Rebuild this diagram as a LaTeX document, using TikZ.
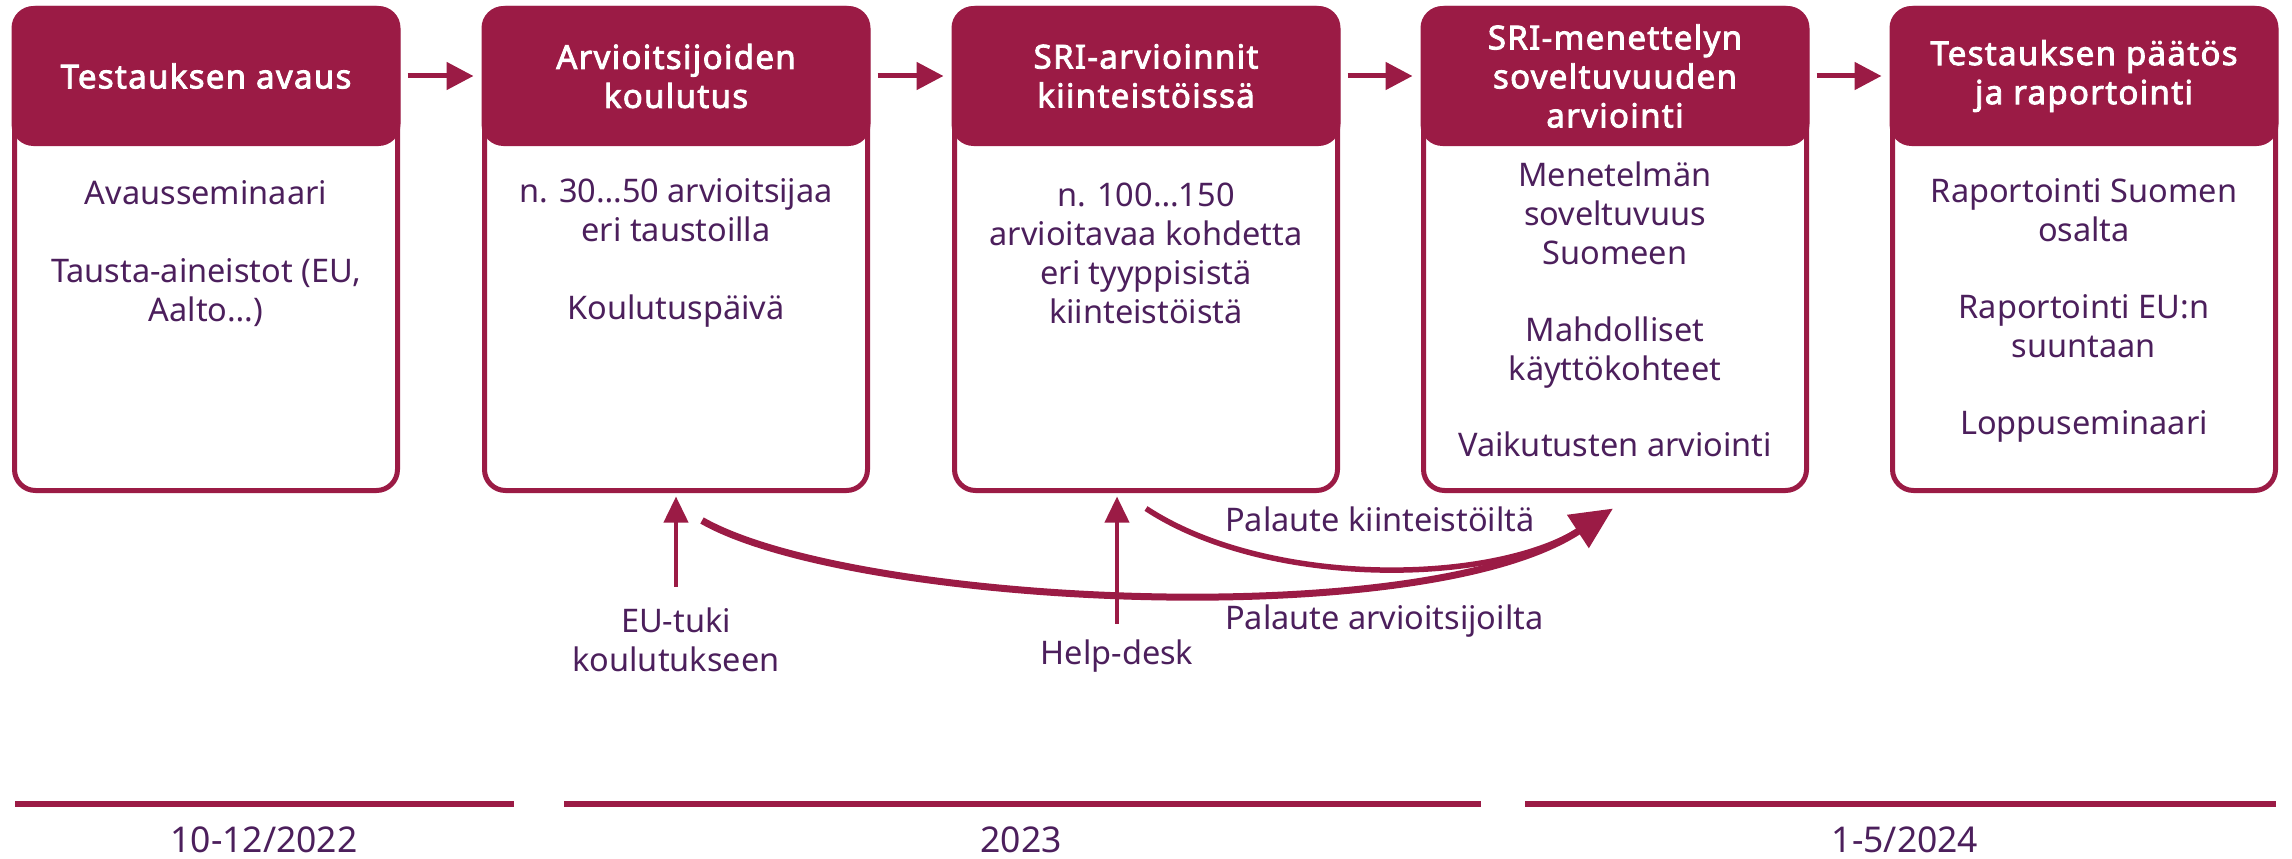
\documentclass[tikz,border=0pt]{standalone}
\usepackage{fontspec}
\setmainfont{Noto Sans}
\newfontfamily\hdfont{Noto Sans}[FakeBold=2.6, LetterSpace=4]
\usetikzlibrary{arrows.meta}
\definecolor{crim}{HTML}{9B1B45}
\definecolor{ink}{HTML}{4C1F5C}
\newcommand{\fsz}{\fontsize{32.5}{39}\selectfont}
\newcommand{\fhd}{\hdfont\fontsize{33}{39}\selectfont}
\newcommand{\fdate}{\fontsize{35.5}{40}\selectfont}
\begin{document}
\begin{tikzpicture}[x=1pt,y=-1pt,
 boxframe/.style={draw=crim, fill=white, line width=5pt, rounded corners=21pt, minimum width=383pt, minimum height=482pt, inner sep=0pt, outer sep=0pt},
 headbox/.style={fill=crim, rounded corners=22pt, minimum width=389pt, minimum height=140pt, inner sep=0pt, outer sep=0pt, text=white, font=\fhd, align=center},
 bodytext/.style={text=ink, font=\fsz, align=center, inner sep=0pt},
 labeltext/.style={text=ink, font=\fsz, align=center, inner sep=0pt},
 datetext/.style={text=ink, font=\fdate, inner sep=0pt},
 steparrow/.style={draw=crim, line width=5pt, -{Triangle[length=27pt,width=27pt]}},
 uparrow/.style={draw=crim, line width=4pt, -{Triangle[length=26pt,width=24pt]}},
 feedback/.style={draw=crim, line width=7pt},
 bar/.style={draw=crim, line width=6.5pt},
]
\useasboundingbox (0,0) rectangle (2292,859);

% frames
\node[boxframe] (b1) at (206,249.5) {};
\node[boxframe] (b2) at (676,249.5) {};
\node[boxframe] (b3) at (1146,249.5) {};
\node[boxframe] (b4) at (1615,249.5) {};
\node[boxframe] (b5) at (2084,249.5) {};

% headers
\node[headbox] (h1) at (206,76) {Testauksen avaus};
\node[headbox] (h2) at (676,76) {Arvioitsijoiden\\koulutus};
\node[headbox] (h3) at (1146,76) {SRI-arvioinnit\\kiinteistöissä};
\node[headbox] (h4) at (1615,76) {SRI-menettelyn\\soveltuvuuden\\arviointi};
\node[headbox] (h5) at (2084,76) {Testauksen päätös\\ja raportointi};

% bodies
\node[bodytext] (t1) at (206,253.5) {Avausseminaari\\[39pt]Tausta-aineistot (EU,\\Aalto…)};
\node[bodytext] (t2) at (676,252.5) {n. 30…50 arvioitsijaa\\eri taustoilla\\[39pt]Koulutuspäivä};
\node[bodytext] (t3) at (1146,253.5) {n. 100…150\\arvioitavaa kohdetta\\eri tyyppisistä\\kiinteistöistä};
\node[bodytext] (t4) at (1615,309) {Menetelmän\\soveltuvuus\\Suomeen\\[38pt]Mahdolliset\\käyttökohteet\\[37pt]Vaikutusten arviointi};
\node[bodytext] (t5) at (2084,310) {Raportointi Suomen\\osalta\\[38pt]Raportointi EU:n\\suuntaan\\[38pt]Loppuseminaari};

% step arrows
\draw[steparrow] ([xshift=7pt]h1.east) -- ([xshift=-8pt]h2.west);
\draw[steparrow] ([xshift=7pt]h2.east) -- ([xshift=-8pt]h3.west);
\draw[steparrow] ([xshift=7pt]h3.east) -- ([xshift=-8pt]h4.west);
\draw[steparrow] ([xshift=7pt]h4.east) -- ([xshift=-8pt]h5.west);

% labels below
\node[labeltext] (eu) at (676,640) {EU-tuki\\koulutukseen};
\node[labeltext] (hd) at (1117,656) {Help-desk};
\node[labeltext, anchor=west] (pk) at (1225,519) {Palaute kiinteistöiltä};
\node[labeltext, anchor=west] (pa) at (1225,621) {Palaute arvioitsijoilta};

% up arrows
\path (b2.south) ++(0,6) coordinate (eut);
\draw[uparrow] ([shift={(0,-21)}]eu.north) -- (eut);
\path (hd.north |- b3.south) ++(0,6) coordinate (hdt);
\draw[uparrow] ([shift={(0,-16)}]hd.north) -- (hdt);

% feedback curves
\coordinate (c1) at ([shift={(26,30)}]b2.south);
\coordinate (c2) at ([shift={(0,18)}]b3.south);
\coordinate (tip) at ([shift={(-2,18)}]b4.south);
\coordinate (tipin) at ([shift={(-28,18)}]tip);
\draw[feedback, line width=5.5pt] (c2) .. controls (1270,590) and (1500,585) .. (tipin);
\draw[feedback, -{Triangle[length=42pt,width=38pt]}] (c1) .. controls (850,605) and (1420,635) .. (tip);

% timeline
\draw[bar] (15,804) -- (514,804);
\draw[bar] (564,804) -- (1481,804);
\draw[bar] (1525,804) -- (2276,804);
\node[datetext] (d1) at (264,840) {10-12/2022};
\node[datetext] (d2) at (1021,840) {2023};
\node[datetext] (d3) at (1905,840) {1-5/2024};
\end{tikzpicture}
\end{document}
